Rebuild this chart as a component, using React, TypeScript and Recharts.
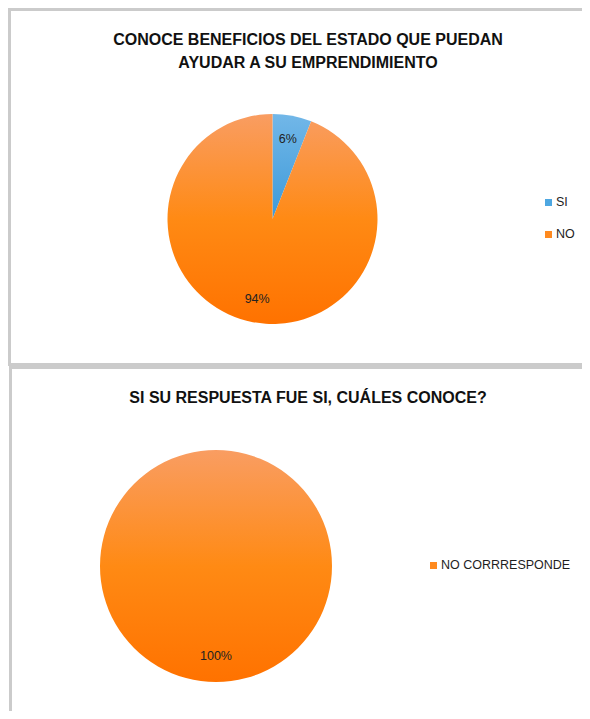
import { PieChart, Pie, Cell, Legend } from 'recharts';

const beneficiosLabels = ['SI', 'NO'];
const beneficiosValues = [6, 94];

const cualesLabels = ['NO CORRRESPONDE'];
const cualesValues = [100];

const TITLE_1 = ['CONOCE BENEFICIOS DEL ESTADO QUE PUEDAN', 'AYUDAR A SU EMPRENDIMIENTO'];
const TITLE_2 = ['SI SU RESPUESTA FUE SI, CUÁLES CONOCE?'];

const FONT = '"Liberation Sans", Arial, sans-serif';
const BORDER = '#cbcbcb';
const RADIAN = Math.PI / 180;

const swatch: Record<string, string> = {
  SI: '#4ea7e1',
  NO: '#ff8a1f',
  'NO CORRRESPONDE': '#ff8a1f',
};
const fillFor = (name: string) => (name === 'SI' ? 'url(#gradBlue)' : 'url(#gradOrange)');

const beneficiosData = beneficiosLabels.map((name, i) => ({ name, value: beneficiosValues[i] }));
const cualesData = cualesLabels.map((name, i) => ({ name, value: cualesValues[i] }));

function Gradients() {
  return (
    <defs>
      <linearGradient id="gradOrange" x1="0" y1="0" x2="0" y2="1">
        <stop offset="0%" stopColor="#f99d62" />
        <stop offset="50%" stopColor="#ff8a14" />
        <stop offset="100%" stopColor="#ff7200" />
      </linearGradient>
      <linearGradient id="gradBlue" x1="0" y1="0" x2="0" y2="1">
        <stop offset="0%" stopColor="#72b7e8" />
        <stop offset="100%" stopColor="#3d9ad9" />
      </linearGradient>
    </defs>
  );
}

const renderLabel = (props: any) => {
  const { cx, cy, midAngle, outerRadius, percent } = props;
  const r = outerRadius * 0.78;
  const x = cx + r * Math.cos(-midAngle * RADIAN);
  const y = cy + r * Math.sin(-midAngle * RADIAN);
  return (
    <text
      x={x}
      y={y}
      textAnchor="middle"
      dominantBaseline="central"
      fontSize={12.5}
      fontFamily={FONT}
      fill="#222"
    >
      {`${Math.round(percent * 100)}%`}
    </text>
  );
};

function LegendBox({ items, gap }: { items: string[]; gap: number }) {
  return (
    <div style={{ fontFamily: FONT, fontSize: 12.5, color: '#1e1e1e' }}>
      {items.map((name) => (
        <div key={name} style={{ display: 'flex', alignItems: 'center', height: 14, marginBottom: gap }}>
          <span style={{ width: 7, height: 7, background: swatch[name], marginRight: 4, display: 'inline-block' }} />
          <span>{name}</span>
        </div>
      ))}
    </div>
  );
}

function Title({ lines, top }: { lines: string[]; top: number }) {
  return (
    <div
      style={{
        position: 'absolute',
        left: 0,
        width: 616,
        top,
        textAlign: 'center',
        fontFamily: FONT,
        fontWeight: 700,
        fontSize: 16,
        lineHeight: '23px',
        color: '#111',
      }}
    >
      {lines.map((l) => (
        <div key={l}>{l}</div>
      ))}
    </div>
  );
}

export default function App() {
  return (
    <div style={{ position: 'relative', width: 590, height: 719, margin: -8, overflow: 'hidden', background: '#fff' }}>
      {/* panel frames */}
      <div
        style={{
          position: 'absolute',
          left: 8,
          top: 8,
          width: 620,
          height: 352,
          borderLeft: `3px solid ${BORDER}`,
          borderTop: `3px solid ${BORDER}`,
          borderBottom: `3px solid ${BORDER}`,
        }}
      />
      <div
        style={{
          position: 'absolute',
          left: 9,
          top: 366,
          width: 620,
          height: 400,
          borderLeft: `3px solid ${BORDER}`,
          borderTop: `3px solid ${BORDER}`,
        }}
      />

      <Title lines={TITLE_1} top={28} />
      <div style={{ position: 'absolute', left: 0, top: 0 }}>
        <PieChart width={590} height={362} margin={{ top: 0, right: 0, bottom: 0, left: 0 }}>
          <Gradients />
          <Pie
            data={beneficiosData}
            dataKey="value"
            nameKey="name"
            cx={272.5}
            cy={219}
            outerRadius={105}
            startAngle={90}
            endAngle={-270}
            stroke="none"
            label={renderLabel}
            labelLine={false}
            isAnimationActive={false}
          >
            {beneficiosData.map((d) => (
              <Cell key={d.name} fill={fillFor(d.name)} />
            ))}
          </Pie>
          <Legend
            content={() => <LegendBox items={beneficiosLabels} gap={18} />}
            wrapperStyle={{ position: 'absolute', left: 545, top: 195, width: 45 }}
          />
        </PieChart>
      </div>

      <Title lines={TITLE_2} top={386} />
      <div style={{ position: 'absolute', left: 0, top: 369 }}>
        <PieChart width={590} height={350} margin={{ top: 0, right: 0, bottom: 0, left: 0 }}>
          <Gradients />
          <Pie
            data={cualesData}
            dataKey="value"
            nameKey="name"
            cx={216}
            cy={197}
            outerRadius={116}
            startAngle={90}
            endAngle={-270}
            stroke="none"
            label={renderLabel}
            labelLine={false}
            isAnimationActive={false}
          >
            {cualesData.map((d) => (
              <Cell key={d.name} fill={fillFor(d.name)} />
            ))}
          </Pie>
          <Legend
            content={() => <LegendBox items={cualesLabels} gap={0} />}
            wrapperStyle={{ position: 'absolute', left: 430, top: 189, width: 160 }}
          />
        </PieChart>
      </div>
    </div>
  );
}
